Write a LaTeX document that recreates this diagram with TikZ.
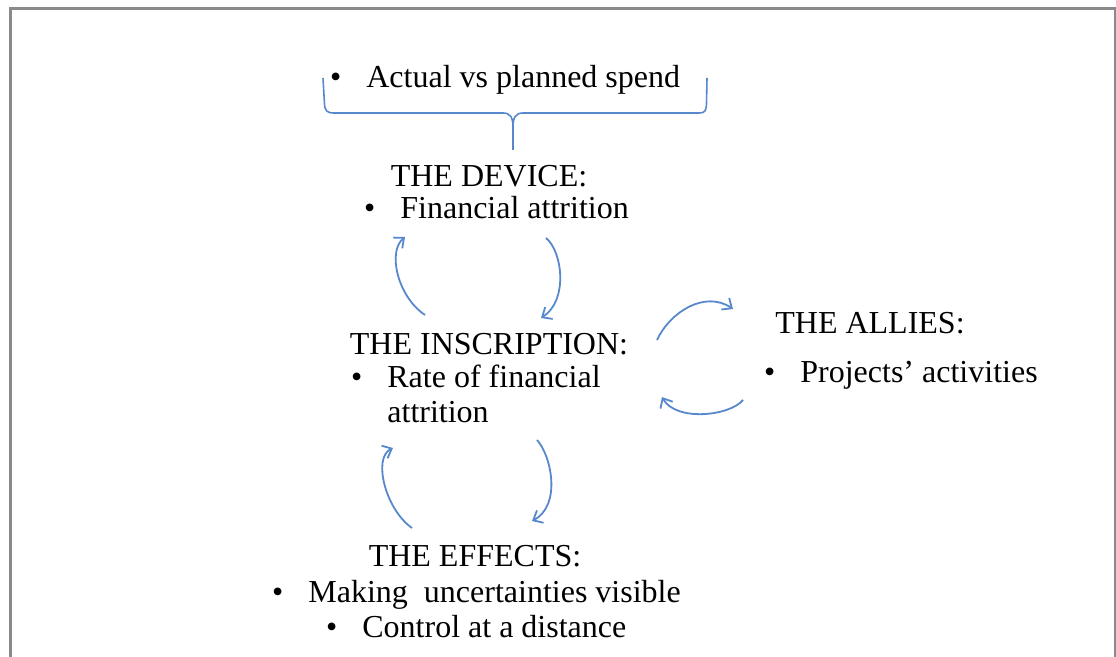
\documentclass[tikz,border=0pt]{standalone}
\usepackage{fontspec}
\setmainfont{Liberation Serif}
\usepackage{tikz}
\usetikzlibrary{arrows.meta}
\definecolor{myblue}{RGB}{88,136,204}
\definecolor{mygrey}{RGB}{138,138,138}
\newcommand{\itembul}{\llap{\textbullet\hspace{12.5pt}}}
\tikzset{
  txt/.style={anchor=base west, inner sep=0pt,
    font=\fontsize{16}{17.5}\selectfont},
  heading/.style={txt, anchor=base},
  flow/.style={-{Straight Barb[length=4pt,width=7pt]}, line width=0.9pt, color=myblue},
  bracket/.style={line width=0.8pt, color=myblue, line join=round},
  frame/.style={line width=1.5pt, color=mygrey}
}

\begin{document}
\begin{tikzpicture}[x=0.5pt, y=-0.5pt]
  \useasboundingbox (0,0) rectangle (1116,657);
  \draw[frame] (10,700) -- (10,9) -- (1115.5,9) -- (1115.5,700);

  % headings, centred
  \node[heading] (dev) at (489,187) {THE DEVICE:};
  \node[heading] (ins) at (489,355) {THE INSCRIPTION:};
  \node[heading] (allies) at (870,334) {THE ALLIES:};
  \node[heading] (eff) at (475,567) {THE EFFECTS:};

  % bullet lines (base of the last line)
  \node[txt] (spend) at (366,88) {\itembul Actual vs planned spend};
  \node[txt] (devitem) at (400,219) {\itembul Financial attrition};
  \node[txt, align=left] (insitem) at (387,423) {\itembul Rate of financial\\attrition};
  \node[txt] (alliesitem) at (800,383) {\itembul Projects’ activities};
  \node[txt] (effitem1) at (308,603) {\itembul Making\ \ uncertainties visible};
  \node[txt] (effitem2) at (362,638) {\itembul Control at a distance};

  % brace under the spend line
  \coordinate (bracetip) at (513,150);
  \draw[bracket] (323,78) -- (324.5,104) .. controls (325,111) and (327,113) .. (334,113)
    -- (503,113) .. controls (510,113) and (513,117) .. (513,127) -- (bracetip);
  \draw[bracket] (513,127) .. controls (513,117) and (516,113) .. (523,113)
    -- (699,113) .. controls (705,113) and (706,111) .. (706.5,104) -- (707,78);

  % loop device <-> inscription
  \coordinate (di1) at (425,315); \coordinate (di2) at (405,237);
  \coordinate (id1) at (546,238); \coordinate (id2) at (541,318);
  \draw[flow] (di1) .. controls +(-27,-18) and +(-18,15) .. (di2);
  \draw[flow] (id1) .. controls +(17,14) and +(27,-17) .. (id2);

  % loop inscription <-> allies
  \coordinate (ia1) at (657,340); \coordinate (ia2) at (733,309);
  \coordinate (ai1) at (743,400); \coordinate (ai2) at (662,397);
  \draw[flow] (ia1) .. controls +(13,-28) and +(-28,-19) .. (ia2);
  \draw[flow] (ai1) .. controls +(-13,16) and +(14,25) .. (ai2);

  % loop inscription <-> effects
  \coordinate (ei1) at (412,528); \coordinate (ei2) at (393,448);
  \coordinate (ie1) at (537,440); \coordinate (ie2) at (532,521);
  \draw[flow] (ei1) .. controls +(-26,-18) and +(-21,10) .. (ei2);
  \draw[flow] (ie1) .. controls +(14,15) and +(30,-16) .. (ie2);
\end{tikzpicture}
\end{document}
